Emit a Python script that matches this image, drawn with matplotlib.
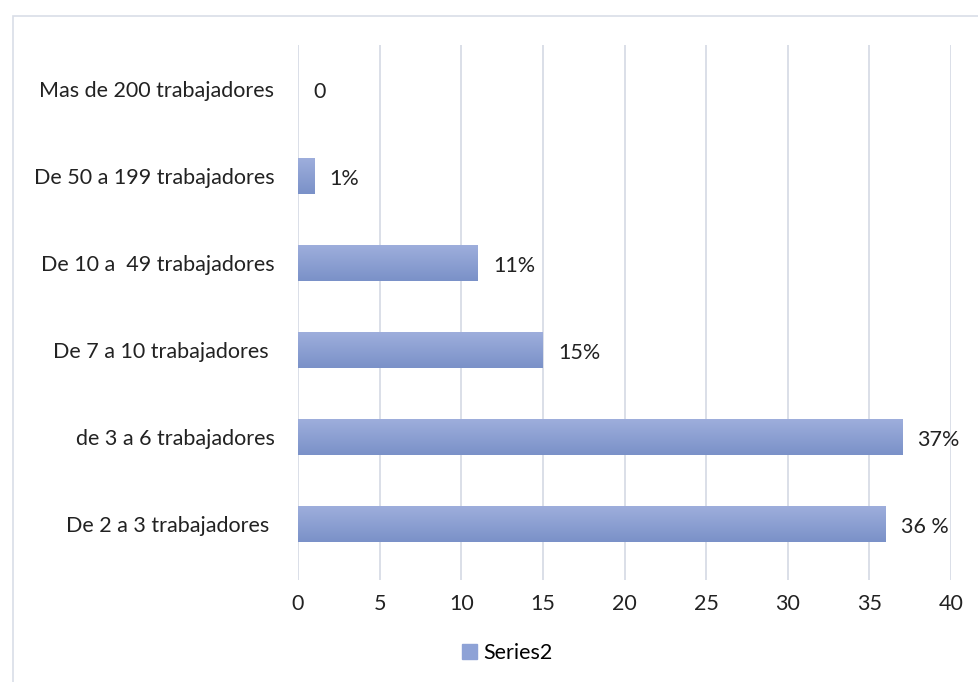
import numpy as np
import matplotlib
matplotlib.use("Agg")
import matplotlib.pyplot as plt
from matplotlib.patches import Rectangle

plt.rcParams['font.family'] = ['Lato', 'DejaVu Sans']

categorias = ["De 2 a 3 trabajadores ", "de 3 a 6 trabajadores", "De 7 a 10 trabajadores ",
              "De 10 a  49 trabajadores", "De 50 a 199 trabajadores", "Mas de 200 trabajadores"]
valores = [36, 37, 15, 11, 1, 0]
etiquetas = ["36 %", "37%", "15%", "11%", "1%", "0"]
xticks = [0, 5, 10, 15, 20, 25, 30, 35, 40]

fig = plt.figure(figsize=(9.79, 6.82), dpi=100)
ax = fig.add_axes([0.3044, 0.1496, 0.9714 - 0.3044, 0.934 - 0.1496])

# marco del grafico
fig.patches.append(Rectangle((13 / 979, -0.01), 1.0, 1 - 16 / 682 + 0.01, transform=fig.transFigure,
                             fill=False, edgecolor="#D9DEE8", linewidth=1.2))

alto = 0.41
grad = np.linspace(0, 1, 100).reshape(-1, 1)
cmap = matplotlib.colors.LinearSegmentedColormap.from_list("g", ["#7A91C8", "#9EAEDC"])
y = np.arange(len(categorias))
for i, v in enumerate(valores):
    if v > 0:
        ax.imshow(grad, extent=(0, v, y[i] - alto / 2, y[i] + alto / 2), aspect="auto",
                  cmap=cmap, origin="lower", zorder=3)
    ax.annotate(etiquetas[i], (v, y[i]), xytext=(11, -2), textcoords="offset points",
                va="center", ha="left", fontsize=15.5, color="#222222")

ax.set_xlim(0, 40)
ax.set_ylim(-0.644, 5.506)
ax.set_xticks(xticks)
ax.set_yticks(y)
ax.set_yticklabels(categorias)
ax.grid(axis="x", color="#DADFE8", linewidth=1.4, zorder=0)
ax.set_axisbelow(True)
for s in ax.spines.values():
    s.set_visible(False)
ax.tick_params(axis="both", length=0, labelsize=15.5, colors="#222222")
ax.tick_params(axis="y", pad=17)
ax.tick_params(axis="x", pad=10)

ax.legend([Rectangle((0, 0), 1, 1, color="#8EA2D6")], ["Series2"], loc="center",
          bbox_to_anchor=(507 / 979, 1 - 653 / 682), bbox_transform=fig.transFigure,
          frameon=False, fontsize=15.5, handlelength=0.7, handleheight=0.7, handletextpad=0.3)

fig.savefig("out.png", dpi=100)
